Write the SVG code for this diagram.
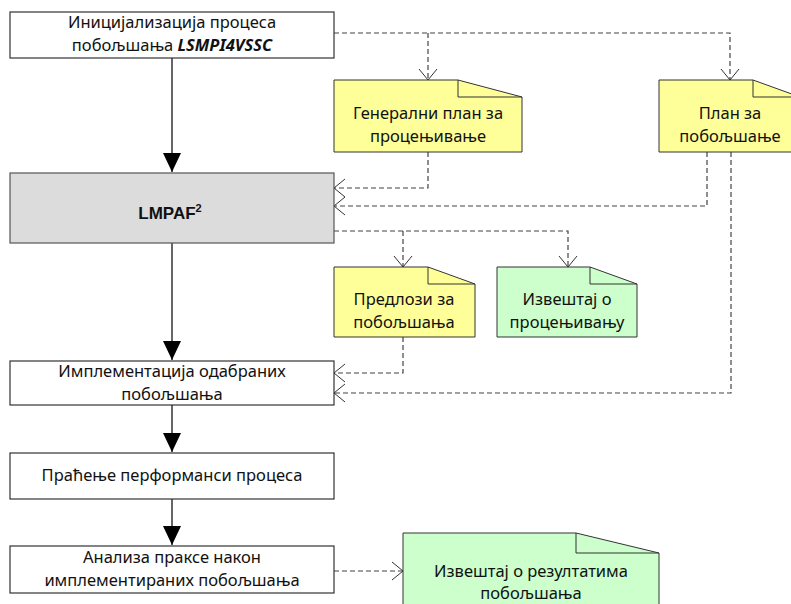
<svg xmlns="http://www.w3.org/2000/svg" width="791" height="604" viewBox="0 0 791 604">
<defs>
<marker id="solid" markerWidth="20" markerHeight="18" refX="19" refY="9" orient="auto" markerUnits="userSpaceOnUse" viewBox="0 0 20 18">
<path d="M0,0 L19,9 L0,18 Z" fill="#000"/>
</marker>
<marker id="open" markerWidth="12" markerHeight="20" refX="11" refY="10" orient="auto" markerUnits="userSpaceOnUse" viewBox="0 0 12 20">
<path d="M0,1 L11,10 L0,19" fill="none" stroke="#333" stroke-width="1"/>
</marker>
<style>
.box{fill:#fff;stroke:#333;stroke-width:1.2}
.gray{fill:#dcdcdc;stroke:#555;stroke-width:1.2}
.ny{fill:#ffff99;stroke:#333;stroke-width:1}
.ng{fill:#ccffcc;stroke:#333;stroke-width:1}
.fold{fill:none;stroke:#333;stroke-width:1}
.t{font-family:"Noto Sans","Open Sans","DejaVu Sans",sans-serif;font-size:16.5px;fill:#111;text-anchor:middle}
.b{font-family:"Liberation Sans",Arial,sans-serif;font-weight:bold;font-size:17px;fill:#111;text-anchor:middle}
.s{fill:none;stroke:#000;stroke-width:1.2}
.d{fill:none;stroke:#444;stroke-width:1.2;stroke-dasharray:5,3}
</style>
</defs>
<g id="connectors">
<path class="s" d="M172,58 V172" marker-end="url(#solid)"/>
<path class="s" d="M172,243 V360" marker-end="url(#solid)"/>
<path class="s" d="M172,405 V452" marker-end="url(#solid)"/>
<path class="s" d="M172,499 V545" marker-end="url(#solid)"/>
<path class="d" d="M334,33 H730 V80" marker-end="url(#open)"/>
<path class="d" d="M428,33 V80" marker-end="url(#open)"/>
<path class="d" d="M428,152 V188 H334" marker-end="url(#open)"/>
<path class="d" d="M707,152 V206 H334" marker-end="url(#open)"/>
<path class="d" d="M731,152 V393 H334" marker-end="url(#open)"/>
<path class="d" d="M334,231 H568 V267" marker-end="url(#open)"/>
<path class="d" d="M403,231 V267" marker-end="url(#open)"/>
<path class="d" d="M403,337 V373 H334" marker-end="url(#open)"/>
<path class="d" d="M334,571 H403" marker-end="url(#open)"/>
</g>
<g id="init">
<rect class="box" x="10" y="12" width="324" height="46"/>
<text class="t" x="172" y="28">Иницијализација процеса</text>
<text class="t" x="172" y="51">побољшања <tspan font-weight="bold" font-style="italic">LSMPI4VSSC</tspan></text>
</g>
<g id="plan-general">
<path class="ny" d="M334,80 H458 L522,97 V152 H334 Z"/>
<path class="fold" d="M458,80 V97 H522"/>
<text class="t" x="428" y="119">Генерални план за</text>
<text class="t" x="428" y="142">процењивање</text>
</g>
<g id="plan-improve">
<path class="ny" d="M659,80 H753 L800,97 V152 H659 Z"/>
<path class="fold" d="M753,80 V97 H800"/>
<text class="t" x="730" y="119">План за</text>
<text class="t" x="730" y="142">побољшање</text>
</g>
<g id="lmpaf">
<rect class="gray" x="10" y="173" width="324" height="70"/>
<text class="b" x="170" y="219">LMPAF<tspan font-size="11" dy="-7">2</tspan></text>
</g>
<g id="proposals">
<path class="ny" d="M334,267 H428 L475,284 V337 H334 Z"/>
<path class="fold" d="M428,267 V284 H475"/>
<text class="t" x="404" y="305">Предлози за</text>
<text class="t" x="404" y="328">побољшања</text>
</g>
<g id="report-assess">
<path class="ng" d="M497,267 H590 L637,284 V337 H497 Z"/>
<path class="fold" d="M590,267 V284 H637"/>
<text class="t" x="567" y="305">Извештај о</text>
<text class="t" x="567" y="328">процењивању</text>
</g>
<g id="implement">
<rect class="box" x="10" y="361" width="324" height="44"/>
<text class="t" x="172" y="377">Имплементација одабраних</text>
<text class="t" x="172" y="400">побољшања</text>
</g>
<g id="monitor">
<rect class="box" x="10" y="453" width="324" height="46"/>
<text class="t" x="172" y="481">Праћење перформанси процеса</text>
</g>
<g id="analysis">
<rect class="box" x="10" y="546" width="324" height="47"/>
<text class="t" x="172" y="563">Анализа праксе након</text>
<text class="t" x="172" y="586">имплементираних побољшања</text>
</g>
<g id="report-results">
<path class="ng" d="M403,533 H576 L659,553 V610 H403 Z"/>
<path class="fold" d="M576,533 V553 H659"/>
<text class="t" x="531" y="577">Извештај о резултатима</text>
<text class="t" x="531" y="599">побољшања</text>
</g>
</svg>
